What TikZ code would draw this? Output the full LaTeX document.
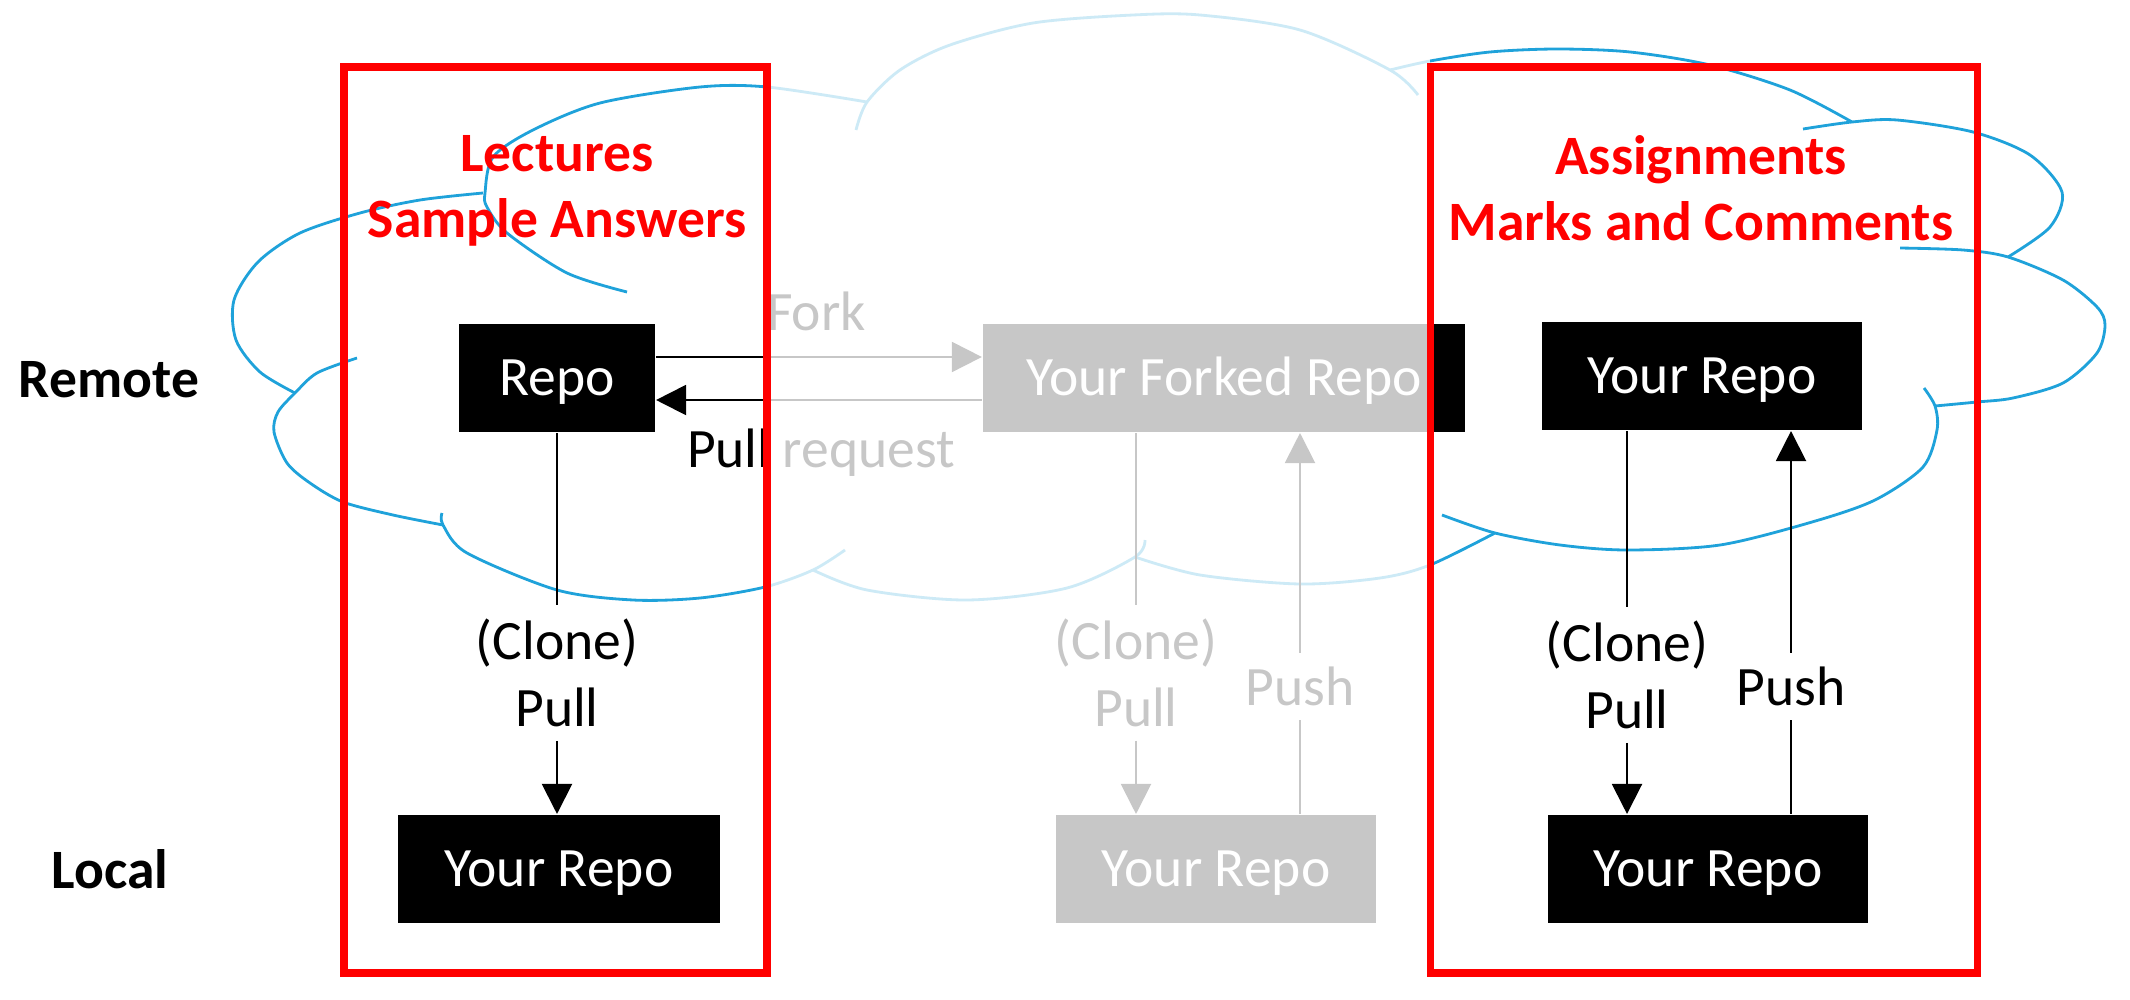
\documentclass[tikz,border=0pt]{standalone}
\usepackage{fontspec}
\setmainfont{Carlito}
\usetikzlibrary{arrows.meta}

\definecolor{cloudblue}{HTML}{1FA2DA}
\definecolor{framered}{HTML}{FF0000}
\tikzstyle{repo}=[fill=black, text=white, inner sep=0, minimum height=1.08cm, text height=0.34cm, text depth=0pt]
\tikzstyle{cmd}=[align=center, inner sep=0.13cm]
\tikzstyle{title}=[align=center, text=framered, font=\fontsize{15.8pt}{18.8pt}\selectfont\bfseries]
\tikzstyle{side}=[anchor=base, font=\fontsize{15.8pt}{19pt}\selectfont\bfseries]
\tikzstyle{cloudline}=[draw=cloudblue, line width=0.8pt]
\tikzstyle{arr}=[-{Triangle[length=0.3cm, width=0.3cm]}]
\tikzstyle{frame}=[draw=framered, line width=2pt]

\begin{document}
\begin{tikzpicture}[x=0.01cm, y=-0.01cm, line width=0.57pt, font=\fontsize{15.8pt}{19pt}\selectfont]
\useasboundingbox (0,0) rectangle (2130,1000);

% the cloud, bump by bump
\draw[cloudline] plot[smooth] coordinates {(357,358) (317,373) (295,393) (278,412) (274,432) (287,463) (310,483) (343,502) (393,515) (443,525)};
\draw[cloudline] plot[smooth] coordinates {(295,393) (260,372) (236,340) (234,300) (258,262) (300,233) (360,213) (420,200) (483,193)};
\draw[cloudline] plot[smooth] coordinates {(627,292) (567,273) (507,233) (487,207) (485,193) (493,157) (533,130) (600,103) (700,87) (767,87) (867,102)};
\draw[cloudline] plot[smooth] coordinates {(856,130) (867,102) (900,70) (950,45) (1033,23) (1133,15) (1200,15) (1300,30) (1390,70) (1418,95)};
\draw[cloudline] plot[smooth] coordinates {(1390,70) (1430,61) (1490,52) (1557,49) (1630,52) (1710,65) (1790,90) (1852,122)};
\draw[cloudline] plot[smooth] coordinates {(1803,129) (1852,122) (1897,120) (1973,132) (2030,155) (2062,192) (2050,227) (2008,257)};
\draw[cloudline] plot[smooth] coordinates {(1900,248) (1963,250) (2008,257) (2063,280) (2097,307) (2105,325) (2097,353) (2063,383) (2013,398) (1977,402) (1935,406)};
\draw[cloudline] plot[smooth] coordinates {(1924,388) (1935,406) (1937,430) (1923,467) (1875,500) (1812,522) (1720,545) (1627,550) (1560,545) (1495,533) (1442,515)};
\draw[cloudline] plot[smooth] coordinates {(1135,557) (1200,575) (1300,584) (1380,578) (1430,565) (1495,533)};
\draw[cloudline] plot[smooth] coordinates {(813,570) (867,590) (967,600) (1067,588) (1135,557) (1145,540)};
\draw[cloudline] plot[smooth] coordinates {(442,513) (443,525) (467,553) (557,590) (633,600) (700,598) (765,587) (813,570) (845,550)};

\node[title] (lectures) at (557,191) {Lectures\\Sample Answers};
\node[title] (assign) at (1701,188) {Assignments\\Marks and Comments};

\node[side] (remote) at (109,397) {Remote};
\node[side] (local) at (110,888) {Local};

\node[repo, minimum width=1.96cm] (repoL) at (557,378) {Repo};
\node[repo, minimum width=4.82cm] (forked) at (1224,378) {Your Forked Repo};
\node[repo, minimum width=3.2cm] (repoR) at (1702,376) {Your Repo};
\node[repo, minimum width=3.21cm] (localL) at (559,869) {Your Repo};
\node[repo, minimum width=3.19cm] (localM) at (1216,869) {Your Repo};
\node[repo, minimum width=3.19cm] (localR) at (1708,869) {Your Repo};

\node[cmd] (cloneL) at (557,673) {(Clone)\\Pull};
\node[cmd] (cloneM) at (1136,673) {(Clone)\\Pull};
\node[cmd] (cloneR) at (1627,675) {(Clone)\\Pull};
\node[cmd] (pushM) at (1300,686) {Push};
\node[cmd] (pushR) at (1791,686) {Push};

\node[anchor=base west, inner sep=0] (forkLbl) at (766,330) {Fork};
\node[anchor=base west, inner sep=0] (prLbl) at (686,467) {Pull request};

% fork and pull request
\draw[arr] ([yshift=0.21cm]repoL.east) -- ([yshift=0.21cm]forked.west);
\draw[arr] ([yshift=-0.22cm]forked.west) -- ([yshift=-0.22cm]repoL.east);

% remote to local and back
\draw (repoL.south) -- (cloneL.north);
\draw[arr] (cloneL.south) -- (cloneL |- localL.north);
\draw (forked.south -| cloneM) -- (cloneM.north);
\draw[arr] (cloneM.south) -- (cloneM |- localM.north);
\draw (pushM |- localM.north) -- (pushM.south);
\draw[arr] (pushM.north) -- (pushM |- forked.south);
\draw (repoR.south -| cloneR) -- (cloneR.north);
\draw[arr] (cloneR.south) -- (cloneR |- localR.north);
\draw (pushR |- localR.north) -- (pushR.south);
\draw[arr] (pushR.north) -- (pushR |- repoR.south);

% fade the forking route
\fill[white, opacity=0.78] (767,0) rectangle (1430,1000);

\draw[frame] (344,67) rectangle (767,973);
\draw[frame] (1430,67) rectangle (1977,973);

\end{tikzpicture}
\end{document}
